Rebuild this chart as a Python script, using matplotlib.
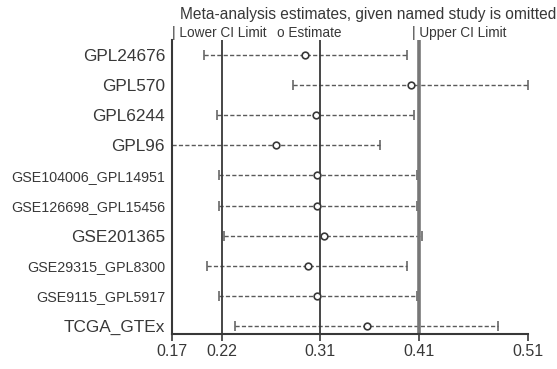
import matplotlib
matplotlib.use('Agg')
import matplotlib.pyplot as plt
import numpy as np

plt.rcParams['font.family'] = ['Liberation Sans', 'DejaVu Sans']

# leave-one-out estimates with 95% CI
studies = ['GPL24676', 'GPL570', 'GPL6244', 'GPL96', 'GSE104006_GPL14951',
           'GSE126698_GPL15456', 'GSE201365', 'GSE29315_GPL8300',
           'GSE9115_GPL5917', 'TCGA_GTEx']
est = [0.2970, 0.3980, 0.3072, 0.2693, 0.3088, 0.3085, 0.3152, 0.2996, 0.3085, 0.3560]
lower = [0.2010, 0.2853, 0.2127, 0.1700, 0.2149, 0.2149, 0.2200, 0.2031, 0.2149, 0.2299]
upper = [0.3942, 0.5100, 0.4016, 0.3687, 0.4043, 0.4040, 0.4085, 0.3942, 0.4037, 0.4814]

# pooled estimate over all studies
pooled_est = 0.3114
pooled_lower = 0.2178
pooled_upper = 0.4059

W, H = 557, 369
fig = plt.figure(figsize=(W / 100, H / 100), dpi=100)
ax = fig.add_axes([172 / W, (H - 334) / H, 356 / W, 294 / H])

ypos = np.arange(1, len(studies) + 1)
xmin, xmax = min(lower), max(upper)

dark = '#383838'
ci_col = '#5a5a5a'

for i in range(len(studies)):
    ax.plot([lower[i], upper[i]], [ypos[i], ypos[i]], color=ci_col, lw=1.0,
            dashes=(3, 1.6), clip_on=False)
    ax.plot([lower[i], upper[i]], [ypos[i], ypos[i]], ls='none', marker='|',
            ms=6.5, mew=1.1, color=ci_col, clip_on=False)
    ax.plot(est[i], ypos[i], ls='none', marker='o', ms=4.8, mfc='white',
            mec=dark, mew=1.2, zorder=5, clip_on=False)

ax.axvline(pooled_lower, color=dark, lw=1.3)
ax.axvline(pooled_est, color=dark, lw=1.3)
ax.axvline(pooled_upper, color='#777777', lw=2.6)

ax.set_xlim(xmin, xmax)
ax.set_ylim(1 + 279 / 30.1, 1 - 15 / 30.1)

ticks = [xmin, pooled_lower, pooled_est, pooled_upper, xmax]
ax.set_xticks(ticks)
ax.set_xticklabels(['%.2f' % t for t in ticks], fontsize=11.5, color=dark)
ax.tick_params(axis='x', direction='out', length=5, width=1.2, color=dark, pad=2)

ax.set_yticks(ypos)
ax.set_yticklabels(studies, color=dark)
ax.tick_params(axis='y', length=0, pad=5)
for lab in ax.get_yticklabels():
    lab.set_fontsize(10.3 if len(lab.get_text()) > 12 else 12.4)

for s in ['top', 'right']:
    ax.spines[s].set_visible(False)
for s in ['left', 'bottom']:
    ax.spines[s].set_color(dark)
    ax.spines[s].set_linewidth(1.5)

# legend text above the panel
fig.text(180 / W, 1 - 15 / H, 'Meta-analysis estimates, given named study is omitted',
         fontsize=11.2, color=dark, va='center', ha='left')
fig.text(172 / W, 1 - 33 / H, '| Lower CI Limit', fontsize=9.8, color=dark,
         va='center', ha='left')
fig.text(277 / W, 1 - 33 / H, 'o Estimate', fontsize=9.8, color=dark,
         va='center', ha='left')
fig.text(412 / W, 1 - 33 / H, '| Upper CI Limit', fontsize=9.8, color=dark,
         va='center', ha='left')

fig.savefig('out.png', dpi=100, facecolor='white')
